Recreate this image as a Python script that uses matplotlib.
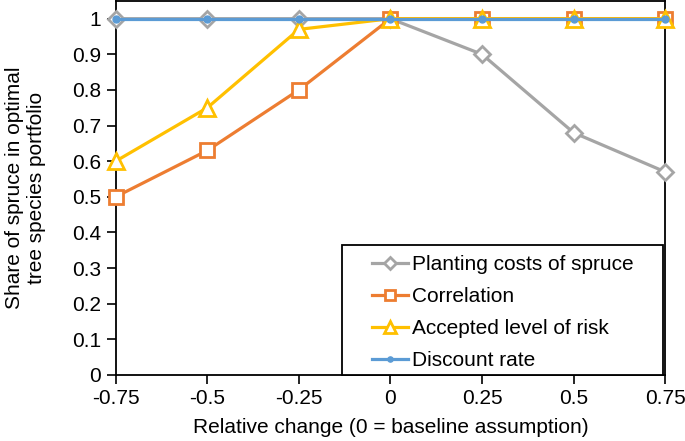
import matplotlib
matplotlib.use("Agg")
import matplotlib.pyplot as plt
from matplotlib.patches import Rectangle

# Data
relative_change = [-0.75, -0.5, -0.25, 0, 0.25, 0.5, 0.75]
x_tick_labels = ["-0.75", "-0.5", "-0.25", "0", "0.25", "0.5", "0.75"]
planting_costs = [1, 1, 1, 1, 0.9, 0.68, 0.57]
correlation = [0.5, 0.63, 0.8, 1, 1, 1, 1]
accepted_risk = [0.6, 0.75, 0.97, 1, 1, 1, 1]
discount_rate = [1, 1, 1, 1, 1, 1, 1]
y_ticks = [0, 0.1, 0.2, 0.3, 0.4, 0.5, 0.6, 0.7, 0.8, 0.9, 1]
y_tick_labels = ["0", "0.1", "0.2", "0.3", "0.4", "0.5", "0.6", "0.7", "0.8", "0.9", "1"]

plt.rcParams["font.family"] = ["Liberation Sans", "DejaVu Sans"]
plt.rcParams["font.size"] = 15

fig = plt.figure(figsize=(6.85, 4.41), dpi=100)
ax = fig.add_axes([0.169, 0.150, 0.802, 0.848])

ax.plot(relative_change, planting_costs, color="#A5A5A5", lw=2.3, marker="D",
        markersize=8, markerfacecolor="white", markeredgewidth=2,
        label="Planting costs of spruce", clip_on=False, zorder=3)
ax.plot(relative_change, correlation, color="#ED7D31", lw=2.3, marker="s",
        markersize=10, markerfacecolor="white", markeredgewidth=2,
        label="Correlation", clip_on=False, zorder=4)
ax.plot(relative_change, accepted_risk, color="#FFC000", lw=2.3, marker="^",
        markersize=11, markerfacecolor="white", markeredgewidth=2,
        label="Accepted level of risk", clip_on=False, zorder=5)
ax.plot(relative_change, discount_rate, color="#5B9BD5", lw=2.3, marker="o",
        markersize=5, markerfacecolor="#5B9BD5", markeredgecolor="#5B9BD5",
        label="Discount rate", clip_on=False, zorder=6)

ax.set_xlim(-0.75, 0.75)
ax.set_ylim(0, 1.05)
ax.set_xticks(relative_change, x_tick_labels)
ax.set_yticks(y_ticks, y_tick_labels)
ax.tick_params(direction="out", length=6.5, width=1.2, colors="black", pad=4)
for spine in ax.spines.values():
    spine.set_linewidth(1.3)
    spine.set_color("black")

ax.set_xlabel("Relative change (0 = baseline assumption)", labelpad=7)
ax.set_ylabel("Share of spruce in optimal\ntree species portfolio", labelpad=19)

# Excel-style legend box: wider horizontal padding than matplotlib's frame
ax.add_patch(Rectangle((0.412, 0.0), 0.585, 0.348, transform=ax.transAxes,
                       facecolor="white", edgecolor="black", lw=1.3,
                       zorder=8, clip_on=False))
leg = ax.legend(loc="upper left", bbox_to_anchor=(0.466, 0.32),
                frameon=False, borderaxespad=0, borderpad=0, markerscale=0.75,
                handlelength=1.75, handletextpad=0.2, labelspacing=0.62)
leg.set_zorder(9)

fig.savefig("out.png", dpi=100)
